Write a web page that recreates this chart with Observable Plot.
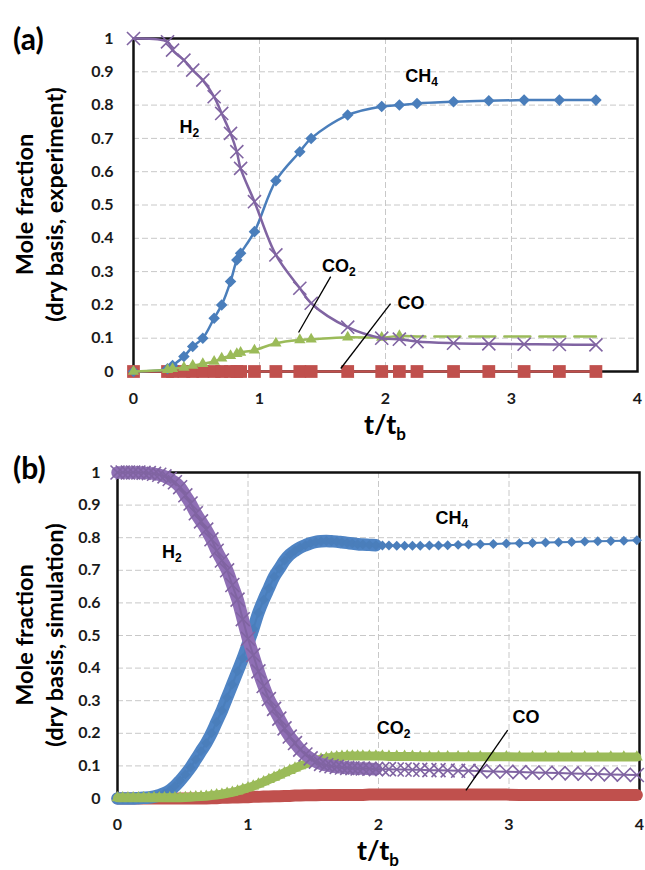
<!DOCTYPE html>
<html>
<head>
<meta charset="utf-8">
<script src="https://cdn.jsdelivr.net/npm/d3@7"></script>
<script src="https://cdn.jsdelivr.net/npm/@observablehq/plot@0.6"></script>
<style>
html,body{margin:0;padding:0;background:#fff;}
#chart{width:645px;}
#chart svg{display:block;}
</style>
</head>
<body>
<div id="chart"></div>
<script>
// ---------- axes ----------
const yTicks = [0, 0.1, 0.2, 0.3, 0.4, 0.5, 0.6, 0.7, 0.8, 0.9, 1];
const yTickLabels = ["0", "0.1", "0.2", "0.3", "0.4", "0.5", "0.6", "0.7", "0.8", "0.9", "1"];
const xTicks = [0, 1, 2, 3, 4];
const xTickLabels = ["0", "1", "2", "3", "4"];
const yGrid = [0.1, 0.2, 0.3, 0.4, 0.5, 0.6, 0.7, 0.8, 0.9];
const xGrid = [1, 2, 3];

// ---------- panel (a): experiment ----------
const tExp   = [0, 0.27, 0.31, 0.40, 0.47, 0.55, 0.64, 0.70, 0.77, 0.82, 0.85, 0.96, 1.13, 1.32, 1.41, 1.70, 1.97, 2.11, 2.25, 2.54, 2.82, 3.10, 3.38, 3.67];
const ch4Exp = [0, 0.008, 0.018, 0.045, 0.075, 0.10, 0.16, 0.20, 0.27, 0.335, 0.355, 0.42, 0.573, 0.66, 0.70, 0.77, 0.796, 0.80, 0.805, 0.81, 0.813, 0.815, 0.815, 0.815];
const h2Exp  = [1, 0.99, 0.965, 0.935, 0.905, 0.875, 0.825, 0.775, 0.715, 0.66, 0.61, 0.51, 0.35, 0.25, 0.205, 0.133, 0.10, 0.097, 0.09, 0.085, 0.083, 0.082, 0.081, 0.08];
const coExp  = [0, 0, 0, 0, 0, 0, 0, 0, 0, 0, 0, 0, 0, 0, 0, 0, 0, 0, 0, 0, 0, 0, 0, 0];
const tCo2Exp = [0, 0.27, 0.31, 0.40, 0.47, 0.55, 0.64, 0.70, 0.77, 0.82, 0.85, 0.96, 1.13, 1.32, 1.41, 1.70, 1.97, 2.11];
const co2Exp  = [0, 0.005, 0.008, 0.012, 0.018, 0.023, 0.03, 0.04, 0.047, 0.053, 0.057, 0.064, 0.085, 0.095, 0.097, 0.103, 0.102, 0.107];
const tCo2Tail = [2.11, 2.25, 2.54, 2.82, 3.10, 3.38, 3.67];
const co2Tail  = [0.107, 0.105, 0.105, 0.105, 0.105, 0.105, 0.105];

// ---------- panel (b): simulation ----------
const tSim = [0, 0.04, 0.08, 0.12, 0.16, 0.2, 0.24, 0.28, 0.32, 0.36,
  0.4, 0.44, 0.48, 0.52, 0.56, 0.6, 0.64, 0.68, 0.72, 0.76,
  0.8, 0.84, 0.88, 0.92, 0.96, 1.0, 1.04, 1.08, 1.12, 1.16,
  1.2, 1.24, 1.28, 1.32, 1.36, 1.4, 1.44, 1.48, 1.52, 1.56,
  1.6, 1.64, 1.68, 1.72, 1.76, 1.8, 1.84, 1.88,
  1.93, 1.98, 2.03, 2.08, 2.14, 2.2, 2.26, 2.32, 2.39, 2.46,
  2.53, 2.61, 2.69, 2.78, 2.88, 2.98, 3.08, 3.18, 3.28, 3.38,
  3.48, 3.58, 3.68, 3.78, 3.88, 3.98];
const ch4Sim = [0, 0, 0, 0, 0.001, 0.002, 0.003, 0.006, 0.01, 0.016,
  0.025, 0.038, 0.055, 0.074, 0.095, 0.12, 0.145, 0.17, 0.2, 0.235,
  0.27, 0.31, 0.35, 0.39, 0.43, 0.475, 0.52, 0.57, 0.61, 0.645,
  0.68, 0.705, 0.73, 0.748, 0.76, 0.77, 0.777, 0.783, 0.787, 0.789,
  0.79, 0.789, 0.788, 0.786, 0.784, 0.782, 0.78, 0.779,
  0.778, 0.777, 0.776, 0.776, 0.775, 0.775, 0.775, 0.775, 0.776, 0.776,
  0.777, 0.778, 0.779, 0.78, 0.781, 0.782, 0.783, 0.784, 0.785, 0.786,
  0.787, 0.788, 0.789, 0.79, 0.791, 0.792];
const h2Sim = [1, 1, 1, 1, 1, 0.999, 0.998, 0.996, 0.993, 0.988,
  0.98, 0.97, 0.955, 0.93, 0.905, 0.875, 0.85, 0.825, 0.795, 0.76,
  0.73, 0.70, 0.655, 0.61, 0.55, 0.49, 0.44, 0.39, 0.345, 0.305,
  0.275, 0.245, 0.215, 0.19, 0.17, 0.15, 0.135, 0.123, 0.113, 0.106,
  0.102, 0.099, 0.097, 0.095, 0.094, 0.093, 0.092, 0.092,
  0.091, 0.09, 0.09, 0.09, 0.089, 0.089, 0.088, 0.088, 0.087, 0.087,
  0.086, 0.085, 0.085, 0.084, 0.083, 0.082, 0.081, 0.08, 0.079, 0.078,
  0.077, 0.076, 0.075, 0.074, 0.073, 0.072];
const co2Sim = [0.002, 0.002, 0.002, 0.002, 0.002, 0.002, 0.002, 0.002, 0.002, 0.002,
  0.002, 0.002, 0.002, 0.003, 0.004, 0.005, 0.006, 0.007, 0.009, 0.011,
  0.013, 0.016, 0.019, 0.023, 0.028, 0.033, 0.038, 0.044, 0.051, 0.058,
  0.065, 0.072, 0.079, 0.086, 0.093, 0.1, 0.106, 0.112, 0.117, 0.121,
  0.124, 0.126, 0.128, 0.129, 0.13, 0.13, 0.13, 0.13,
  0.13, 0.13, 0.13, 0.129, 0.129, 0.129, 0.129, 0.128, 0.128, 0.128,
  0.128, 0.128, 0.128, 0.128, 0.128, 0.128, 0.127, 0.127, 0.127, 0.127,
  0.127, 0.127, 0.127, 0.127, 0.127, 0.127];
const coSim = [0, 0, 0, 0, 0, 0, 0, 0, 0, 0,
  0, 0, 0, 0, 0, 0, 0, 0, 0.001, 0.001,
  0.002, 0.002, 0.003, 0.003, 0.004, 0.004, 0.005, 0.005, 0.006, 0.006,
  0.007, 0.007, 0.008, 0.008, 0.009, 0.009, 0.01, 0.01, 0.01, 0.011,
  0.011, 0.011, 0.011, 0.011, 0.011, 0.011, 0.011, 0.011,
  0.012, 0.012, 0.012, 0.012, 0.012, 0.012, 0.012, 0.012, 0.012, 0.012,
  0.012, 0.012, 0.012, 0.012, 0.012, 0.012, 0.011, 0.011, 0.011, 0.011,
  0.011, 0.011, 0.011, 0.011, 0.011, 0.011];

// ---------- annotations ----------
const speciesMain = ["CH", "H", "CO", "CO"];
const speciesSub  = ["4", "2", "2", ""];
const labelXA = [2.16, 0.37, 1.50, 2.10];
const labelYA = [0.886, 0.733, 0.318, 0.207];
const labelXB = [2.44, 0.345, 1.99, 3.03];
const labelYB = [0.86, 0.755, 0.215, 0.25];
const leaderA = [
  {x1: 1.31, y1: 0.117, x2: 1.565, y2: 0.285},
  {x1: 1.645, y1: 0.009, x2: 2.04, y2: 0.204}
];
const leaderB = [
  {x1: 2.67, y1: 0.025, x2: 2.99, y2: 0.21}
];

const colCH4 = "#4a7ebb", colH2 = "#8064a2", colCO2 = "#9bbb59", colCO = "#c0504d";
const bandH2 = "#8f6fb5", bandCH4 = "#4f84c4";
const tickFont = "Lato, 'Open Sans', sans-serif";
const labelFont = "'Liberation Sans', Arial, sans-serif";
const denseEnd = 2.0;

function rows(t, v) { return t.map((x, i) => ({t: x, v: v[i]})); }

function addText(svg, x, y, main, sub, o) {
  const t = svg.append("text")
    .attr("x", x).attr("y", y)
    .attr("font-family", o.family)
    .attr("font-size", o.size)
    .attr("font-weight", "bold")
    .attr("fill", "#000")
    .attr("text-anchor", o.anchor || "start");
  if (o.rotate) t.attr("transform", `rotate(${o.rotate},${x},${y})`);
  t.append("tspan").text(main);
  if (sub) {
    t.append("tspan").attr("font-size", o.subSize).attr("dy", o.subShift).text(sub);
  }
  return t;
}

function buildPanel(o) {
  const plot = Plot.plot({
    width: 645,
    height: 435,
    marginLeft: o.ml, marginRight: o.mr, marginTop: o.mt, marginBottom: o.mb,
    x: {domain: [0, 4]},
    y: {domain: [0, 1]},
    style: {fontFamily: tickFont, fontSize: "16px", fontWeight: "bold", color: "#1a1a1a", background: "#fff", overflow: "visible"},
    marks: [
      Plot.ruleY(yGrid, {stroke: "#c8c8c8", strokeWidth: 1, strokeDasharray: "6,3"}),
      Plot.ruleX(xGrid, {stroke: "#c8c8c8", strokeWidth: 1, strokeDasharray: "6,3"}),
      Plot.frame({stroke: "#111", strokeWidth: 2.5}),
      Plot.axisY(yTicks, {tickSize: 0, tickPadding: o.yPad, label: null, tickFormat: d => yTickLabels[yTicks.indexOf(d)]}),
      Plot.axisX(xTicks, {tickSize: 0, tickPadding: o.xPad, label: null, tickFormat: d => xTickLabels[xTicks.indexOf(d)]}),
      ...o.marks,
      Plot.link(o.leaders, {x1: "x1", y1: "y1", x2: "x2", y2: "y2", stroke: "#000", strokeWidth: 1.3})
    ]
  });
  const svg = d3.select(plot);
  const xs = plot.scale("x"), ys = plot.scale("y");
  speciesMain.forEach((m, i) => {
    addText(svg, xs.apply(o.labelX[i]), ys.apply(o.labelY[i]) + 6.5, m, speciesSub[i],
      {family: labelFont, size: 18, subSize: 12, subShift: 4});
  });
  addText(svg, 13, o.tagY, o.tag, "", {family: tickFont, size: 30});
  const cy = (o.mt + (435 - o.mb)) / 2;
  addText(svg, 33, cy, "Mole fraction", "", {family: tickFont, size: 23.5, anchor: "middle", rotate: -90});
  addText(svg, 63, cy, o.ytitle2, "", {family: tickFont, size: 23.5, anchor: "middle", rotate: -90});
  const cx = (o.ml + (645 - o.mr)) / 2;
  addText(svg, cx, o.xTitleY, "t/t", "b", {family: tickFont, size: 27, anchor: "middle", subSize: 17, subShift: 6});
  return plot;
}

const panelA = buildPanel({
  ml: 133, mr: 8, mt: 38, mb: 64, yPad: 20, xPad: 21,
  tag: "(a)", tagY: 50, ytitle2: "(dry basis, experiment)", xTitleY: 434,
  labelX: labelXA, labelY: labelYA, leaders: leaderA,
  marks: [
    Plot.line(rows(tExp, coExp), {x: "t", y: "v", stroke: colCO, strokeWidth: 2.5}),
    Plot.dot(rows(tExp, coExp), {x: "t", y: "v", symbol: "square", r: 7.2, fill: colCO}),
    Plot.line(rows(tExp, ch4Exp), {x: "t", y: "v", stroke: colCH4, strokeWidth: 2.5, curve: "catmull-rom"}),
    Plot.dot(rows(tExp, ch4Exp), {x: "t", y: "v", symbol: "diamond2", r: 5.2, fill: colCH4}),
    Plot.line(rows(tCo2Exp, co2Exp), {x: "t", y: "v", stroke: colCO2, strokeWidth: 2.5, curve: "catmull-rom"}),
    Plot.line(rows(tCo2Tail, co2Tail), {x: "t", y: "v", stroke: colCO2, strokeWidth: 2.5, strokeDasharray: "26,9"}),
    Plot.dot(rows(tCo2Exp, co2Exp), {x: "t", y: "v", symbol: "triangle", r: 4.2, fill: colCO2}),
    Plot.line(rows(tExp, h2Exp), {x: "t", y: "v", stroke: colH2, strokeWidth: 2.5, curve: "catmull-rom"}),
    Plot.dot(rows(tExp, h2Exp), {x: "t", y: "v", symbol: "times", r: 6, stroke: colH2, strokeWidth: 1.6, fill: "none"})
  ]
});

const panelB = buildPanel({
  ml: 117, mr: 6, mt: 37, mb: 72, yPad: 17, xPad: 20,
  tag: "(b)", tagY: 44, ytitle2: "(dry basis, simulation)", xTitleY: 425,
  labelX: labelXB, labelY: labelYB, leaders: leaderB,
  marks: [
    Plot.line(rows(tSim, coSim), {x: "t", y: "v", stroke: colCO, strokeWidth: 12}),
    Plot.line(rows(tSim, ch4Sim).filter(d => d.t <= denseEnd), {x: "t", y: "v", stroke: bandCH4, strokeWidth: 12.5, curve: "catmull-rom"}),
    Plot.line(rows(tSim, ch4Sim), {x: "t", y: "v", stroke: colCH4, strokeWidth: 2}),
    Plot.dot(rows(tSim, ch4Sim), {x: "t", y: "v", symbol: "diamond2", r: 4.5, fill: colCH4}),
    Plot.line(rows(tSim, co2Sim), {x: "t", y: "v", stroke: colCO2, strokeWidth: 9}),
    Plot.dot(rows(tSim, co2Sim), {x: "t", y: "v", symbol: "triangle", r: 4.4, fill: colCO2}),
    Plot.line(rows(tSim, h2Sim).filter(d => d.t <= denseEnd), {x: "t", y: "v", stroke: bandH2, strokeWidth: 12.5, curve: "catmull-rom"}),
    Plot.line(rows(tSim, h2Sim), {x: "t", y: "v", stroke: colH2, strokeWidth: 2}),
    Plot.dot(rows(tSim, h2Sim), {x: "t", y: "v", symbol: "times", r: 6.4, stroke: colH2, strokeWidth: 1.6, fill: "none"})
  ]
});

const root = document.getElementById("chart");
root.appendChild(panelA);
root.appendChild(panelB);
</script>
</body>
</html>
